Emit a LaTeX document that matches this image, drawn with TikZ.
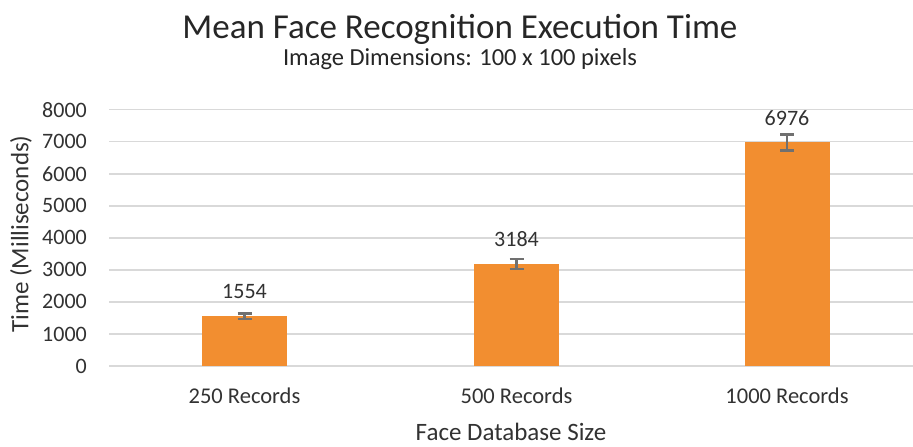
\documentclass[tikz,border=0pt]{standalone}
\usepackage{fontspec}
\setmainfont{Carlito}
\definecolor{barorange}{RGB}{242,142,48}
\definecolor{gridgray}{RGB}{217,217,217}
\definecolor{errgray}{RGB}{112,112,112}
\definecolor{txtdark}{RGB}{38,38,38}
\definecolor{txtmid}{RGB}{50,50,50}
\tikzset{
  gridline/.style={draw=gridgray, line width=1.6pt},
  barfill/.style={fill=barorange},
  errbar/.style={draw=errgray, line width=2.5pt},
  ticklbl/.style={anchor=east, inner sep=0pt, text=txtmid, font=\fontsize{22}{26}\selectfont},
  catlbl/.style={inner sep=0pt, text=txtmid, font=\fontsize{22.5}{26}\selectfont},
  datalbl/.style={inner sep=0pt, text=txtmid, font=\fontsize{22}{26}\selectfont},
  axtitle/.style={inner sep=0pt, text=txtmid, font=\fontsize{25}{30}\selectfont},
}
\begin{document}
\begin{tikzpicture}[x=1pt,y=-1pt]
\useasboundingbox (0,0) rectangle (913,447);
% gridlines and tick labels
\foreach \v in {0,1000,...,8000}{
  \pgfmathsetmacro{\yy}{366-\v*0.03205}
  \draw[gridline] (109,\yy) -- (913,\yy);
  \node[ticklbl] (t\v) at (87,\yy) {\v};
}
% bars
\foreach \cx/\val/\err/\lab/\nm in {244.5/1554/85/250/a,516.5/3184/156/500/b,787/6976/250/1000/c}{
  \pgfmathsetmacro{\top}{366-\val*0.03205}
  \pgfmathsetmacro{\eu}{366-(\val+\err)*0.03205}
  \pgfmathsetmacro{\el}{366-(\val-\err)*0.03205}
  \fill[barfill] (\cx-42.5,366) rectangle (\cx+42.5,\top);
  \draw[errbar] (\cx,\eu) -- (\cx,\el);
  \draw[errbar] (\cx-7,\eu) -- (\cx+7,\eu);
  \draw[errbar] (\cx-7,\el) -- (\cx+7,\el);
  \node[datalbl] (d\nm) at (\cx,\top-24.5) {\val};
  \node[catlbl] (c\nm) at (\cx,396) {\lab\ Records};
}
% titles
\node[inner sep=0pt, text=txtdark, font=\fontsize{35}{42}\selectfont] (title) at (460,29) {Mean Face Recognition Execution Time};
\node[inner sep=0pt, text=txtdark, font=\fontsize{24.5}{29}\selectfont] (subtitle) at (460,59) {Image Dimensions: 100 x 100 pixels};
\node[axtitle] (xtitle) at (511,432) {Face Database Size};
\node[axtitle, rotate=90] (ytitle) at (21,234) {Time (Milliseconds)};
\end{tikzpicture}
\end{document}
